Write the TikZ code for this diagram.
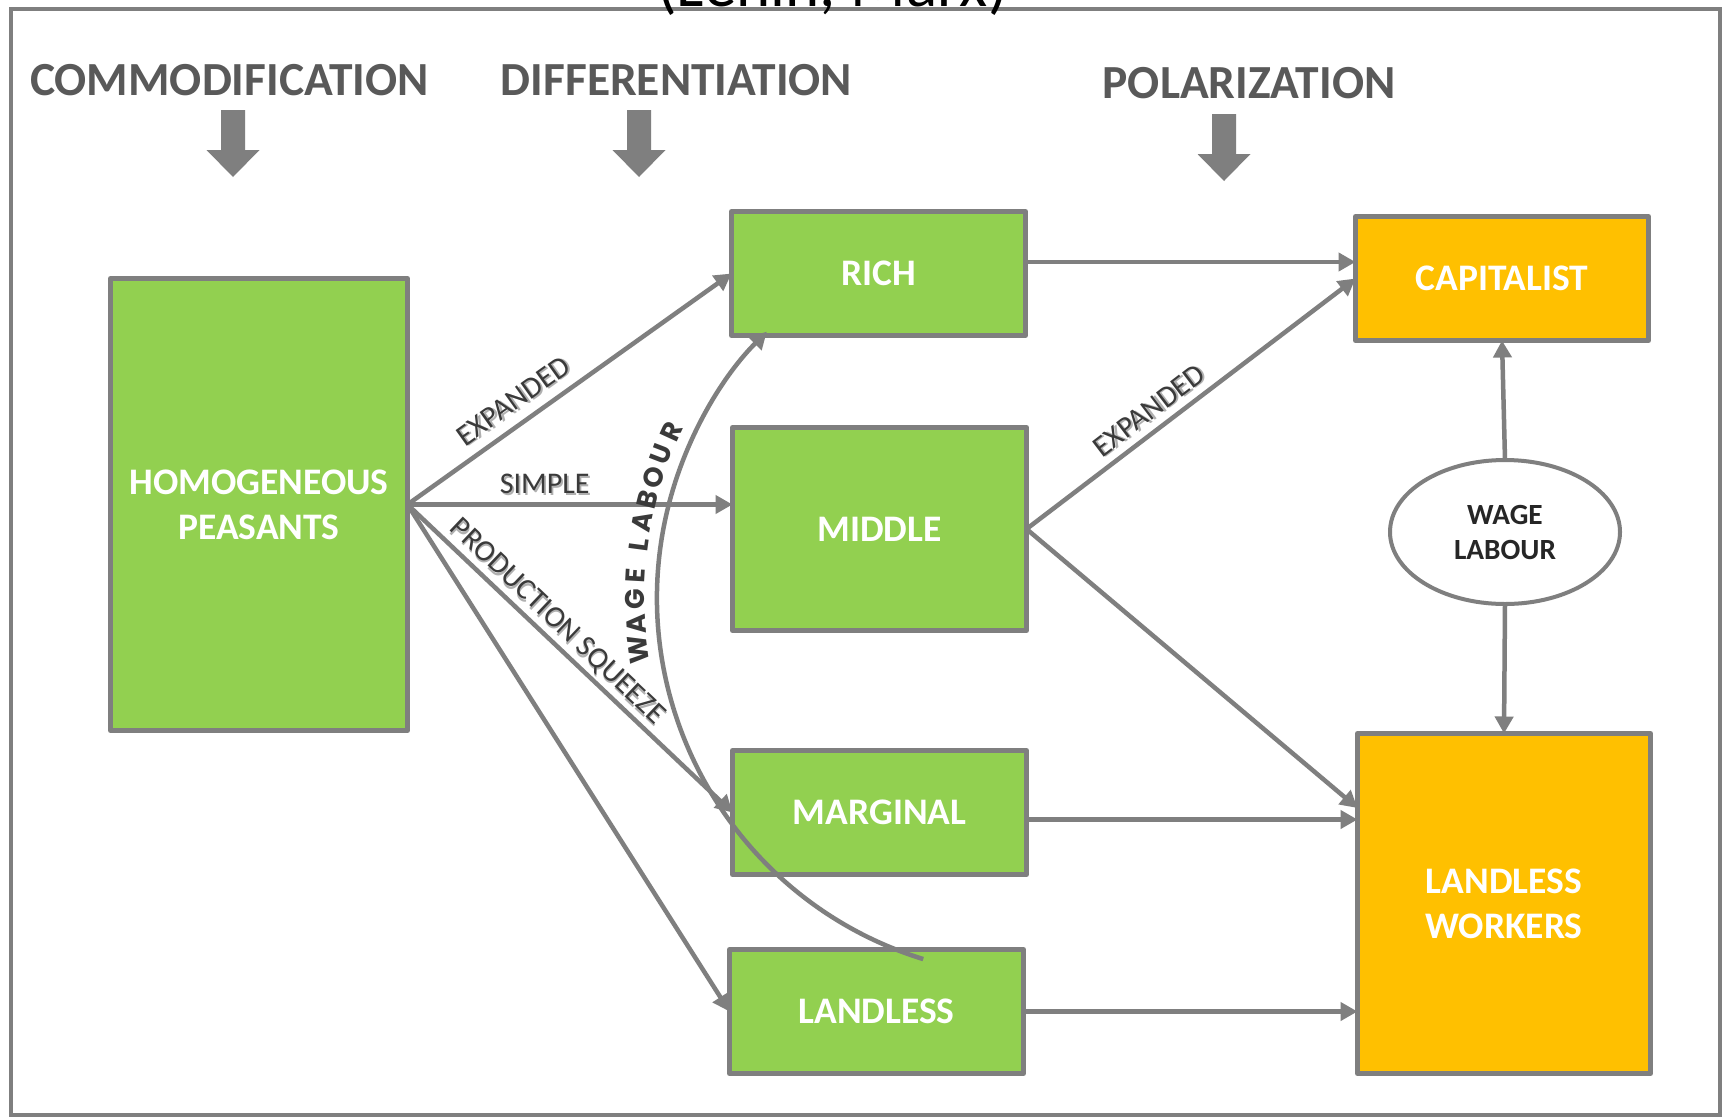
\documentclass[tikz,border=0pt]{standalone}
\usepackage{fontspec}
\setmainfont{Carlito}
\newfontfamily\geofont{Poppins}
\usetikzlibrary{arrows.meta,shapes.geometric,calc}
\definecolor{lgray}{HTML}{7F7F7F}
\definecolor{lgreen}{HTML}{92D050}
\definecolor{lorange}{HTML}{FFC000}
\definecolor{titlegray}{HTML}{595959}
\definecolor{labgray}{HTML}{3A3A3A}
\definecolor{shadowgray}{HTML}{B0B0B0}
\definecolor{darktxt}{HTML}{262626}
\newcommand\shadowedtext[1]{\makebox[0pt][l]{\hspace{1.8pt}\raisebox{-1.8pt}{\textcolor{shadowgray}{#1}}}#1}
\begin{document}
\begin{tikzpicture}[x=1pt,y=-1pt,
  box/.style={draw=lgray, line width=5pt, line join=round, fill=lgreen, text=white,
    font=\fontsize{37.5pt}{45pt}\selectfont\bfseries, align=center, inner sep=0pt, outer sep=0pt},
  obox/.style={box, fill=lorange},
  arr/.style={draw=lgray, line width=4.5pt, -{Triangle[length=17pt,width=18pt]}},
  lab/.style={text=labgray, font=\fontsize{30pt}{34pt}\selectfont, sloped, above,
    inner sep=9pt, text depth=0pt},
  wlab/.style={text=labgray, font=\fontsize{27pt}{32pt}\geofont\bfseries, inner sep=0pt},
  ttl/.style={text=titlegray, font=\fontsize{47.5pt}{56pt}\selectfont\bfseries, inner sep=0pt},
]
\useasboundingbox (0,0) rectangle (1729,1117);
\fill[white] (0,0) rectangle (1729,1117);
% frame
\draw[lgray, line width=4pt] (10.5,8.5) rectangle (1720,1115);
\node[font=\fontsize{65pt}{70pt}\selectfont, anchor=base, inner sep=0pt] (toptitle) at (832.5,6) {(Lenin, Marx)};
% stage titles
\node[ttl] (t1) at (229.5,80) {COMMODIFICATION};
\node[ttl] (t2) at (676.5,80) {DIFFERENTIATION};
\node[ttl] (t3) at (1249,83) {POLARIZATION};
% block arrows
\foreach \x/\t in {233/110, 639/110, 1224/114}
  \fill[lgray] (\x-12,\t) -- (\x+12,\t) -- (\x+12,\t+40) -- (\x+26.5,\t+40) -- (\x,\t+67)
     -- (\x-26.5,\t+40) -- (\x-12,\t+40) -- cycle;
% boxes
\node[box, minimum width=297pt, minimum height=452pt] (hp) at (259,504.5) {HOMOGENEOUS\\PEASANTS};
\node[box, minimum width=294pt, minimum height=124pt] (rich) at (878.5,273.5) {RICH};
\node[box, minimum width=294pt, minimum height=203pt] (middle) at (879.5,529) {MIDDLE};
\node[box, minimum width=294pt, minimum height=124pt] (marginal) at (879.5,812.5) {MARGINAL};
\node[box, minimum width=294pt, minimum height=124pt] (landless) at (876.5,1011.5) {LANDLESS};
\node[obox, minimum width=293pt, minimum height=124pt] (cap) at (1502,278.5) {CAPITALIST};
\node[obox, minimum width=293pt, minimum height=340pt] (lw) at (1504,903.5) {LANDLESS\\WORKERS};
\node[ellipse, draw=lgray, line width=4pt, fill=white, minimum width=230pt, minimum height=144pt,
  inner sep=0pt, outer sep=0pt, text=darktxt, font=\fontsize{29.3pt}{35pt}\selectfont\bfseries, align=center]
  (wl) at (1505,532) {WAGE\\LABOUR};
% connectors
\draw[arr] (hp.east) -- node[lab, pos=0.367, inner sep=11pt] {\shadowedtext{EXPANDED}} (rich.west);
\draw[arr] (hp.east) -- node[lab, pos=0.422, inner sep=8.5pt] {\shadowedtext{SIMPLE}} (hp.east -| middle.west);
\draw[arr] (hp.east) -- node[lab, pos=0.423, inner sep=8pt] {\shadowedtext{PRODUCTION SQUEEZE}} (marginal.west);
\draw[arr] (hp.east) -- (landless.west);
\draw[arr] ([yshift=11.5pt]rich.east) -- ([yshift=11.5pt]rich.east -| cap.west);
\draw[arr] (middle.east) -- node[lab, pos=0.409, inner sep=8.3pt] {\shadowedtext{EXPANDED}} (cap.west);
\draw[arr] (middle.east) -- ([yshift=95.5pt]lw.west);
\draw[arr] ([yshift=-7pt]marginal.east) -- ([yshift=-7pt]marginal.east -| lw.west);
\draw[arr] (landless.east) -- (landless.east -| lw.west);
\draw[arr] (wl.north) -- (cap.south);
\draw[arr] (wl.south) -- (lw.north);
% wage labour curve
\coordinate (arcc) at (1035,598);
\coordinate (arcstart) at ($(arcc)+(107.2:378)$);
\draw[arr] (arcstart) arc[start angle=107.2, end angle=224.8, radius=378];
\foreach \ch/\ang in {W/172.6, A/176.2, G/179.8, E/183.2, L/187.6, A/190.9, B/194.2, O/197.6, U/201.0, R/204.6}
  \node[wlab, rotate={-\ang-90}] at ($(arcc)+(\ang:400)$) {\ch};
\end{tikzpicture}
\end{document}
